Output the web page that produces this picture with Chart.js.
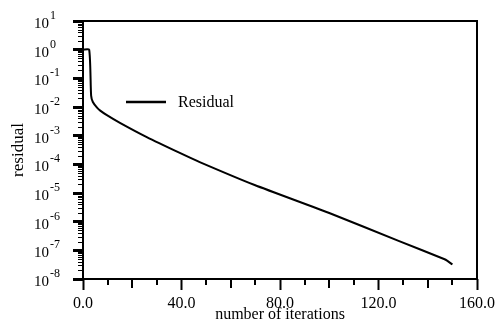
<!DOCTYPE html>
<html>
<head>
<meta charset="utf-8">
<script src="https://cdn.jsdelivr.net/npm/chart.js@4.4.1/dist/chart.umd.min.js"></script>
<style>
  html, body { margin: 0; padding: 0; background: #fff; }
  #wrap { width: 499px; height: 324px; }
</style>
</head>
<body>
<div id="wrap"><canvas id="grafico"></canvas></div>
<script>
// datos
const iteraciones = [0, 2.5, 3.3, 4.0, 5.7, 7.0, 9.7, 15.0, 25.9, 39.3, 47.4, 69.7, 100.0, 128.4, 146.6, 148.0, 150.0];
const residuo = [1, 1, 2.5e-2, 1.5e-2, 9.5e-3, 7.5e-3, 5.2e-3, 2.8e-3, 8.9e-4, 2.5e-4, 1.2e-4, 1.9e-5, 2.0e-6, 2.1e-7, 5.0e-8, 4.3e-8, 3.2e-8];
const decadas = [1e-8, 1e-7, 1e-6, 1e-5, 1e-4, 1e-3, 1e-2, 1e-1, 1e0, 1e1];
const ticksX = [0, 40, 80, 120, 160];

const serif = 'Liberation Serif, Times New Roman, serif';

// marco, etiquetas 10^n, marcas menores y leyenda
const extras = {
    id: 'extras',
    afterDraw(chart) {
        const { ctx, chartArea: a, scales: { x, y } } = chart;
        ctx.save();
        ctx.strokeStyle = '#000';
        ctx.fillStyle = '#000';
        ctx.lineWidth = 2;
        ctx.strokeRect(a.left, a.top, a.right - a.left, a.bottom - a.top);

        // etiquetas del eje y con exponente
        decadas.forEach(v => {
            const py = y.getPixelForValue(v);
            const exp = String(Math.round(Math.log10(v)));
            ctx.font = '15px ' + serif;
            ctx.textAlign = 'right';
            ctx.textBaseline = 'middle';
            ctx.fillText('10', 49, py + 3);
            ctx.font = '12px ' + serif;
            ctx.textAlign = 'left';
            ctx.fillText(exp, 50, py - 5);
        });

        ctx.lineWidth = 1;
        for (let e = -8; e < 1; e++) {
            for (let m = 2; m <= 9; m++) {
                const py = Math.round(y.getPixelForValue(m * Math.pow(10, e))) + 0.5;
                ctx.beginPath();
                ctx.moveTo(a.left - 5, py);
                ctx.lineTo(a.left + 1, py);
                ctx.stroke();
            }
        }
        ctx.lineWidth = 2;
        for (let v = 10; v < 160; v += 10) {
            if (v % 40 === 0) continue;
            const px = Math.round(x.getPixelForValue(v));
            const largo = v % 20 === 0 ? 9 : 6;
            ctx.beginPath();
            ctx.moveTo(px, a.bottom);
            ctx.lineTo(px, a.bottom + largo);
            ctx.stroke();
        }

        // leyenda dentro del grafico
        const ly = 102;
        ctx.lineWidth = 2.5;
        ctx.beginPath();
        ctx.moveTo(126, ly);
        ctx.lineTo(166, ly);
        ctx.stroke();
        ctx.font = '16px ' + serif;
        ctx.textAlign = 'left';
        ctx.textBaseline = 'middle';
        ctx.fillText(chart.data.datasets[0].label, 178, ly + 1);
        ctx.restore();
    }
};

new Chart(document.getElementById('grafico'), {
    type: 'line',
    data: {
        datasets: [{
            label: 'Residual',
            data: iteraciones.map((it, i) => ({ x: it, y: residuo[i] })),
            borderColor: '#000',
            borderWidth: 2,
            pointRadius: 0,
            tension: 0.2,
            fill: false
        }]
    },
    options: {
        responsive: true,
        maintainAspectRatio: false,
        animation: false,
        layout: { padding: { top: 21, right: 21, left: 0, bottom: 0 } },
        plugins: {
            legend: { display: false },
            tooltip: { enabled: false }
        },
        scales: {
            x: {
                type: 'linear',
                min: 0,
                max: 160,
                afterBuildTicks: s => { s.ticks = ticksX.map(v => ({ value: v })); },
                afterFit: s => { s.height = 45; },
                border: { display: false },
                grid: { drawOnChartArea: false, tickLength: 11, tickWidth: 2, tickColor: '#000' },
                ticks: {
                    color: '#000',
                    padding: 4,
                    maxRotation: 0,
                    font: { family: serif, size: 16 },
                    callback: v => v.toFixed(1)
                },
                title: {
                    display: true,
                    text: 'number of iterations',
                    color: '#000',
                    padding: { top: 0, bottom: 0 },
                    font: { family: serif, size: 16 }
                }
            },
            y: {
                type: 'logarithmic',
                min: 1e-8,
                max: 10,
                afterBuildTicks: s => { s.ticks = decadas.map(v => ({ value: v })); },
                afterFit: s => { s.width = 83; },
                border: { display: false },
                grid: { drawOnChartArea: false, tickLength: 10, tickWidth: 3, tickColor: '#000' },
                ticks: { display: false },
                title: {
                    display: true,
                    text: 'residual',
                    color: '#000',
                    padding: { top: 8, bottom: 0 },
                    font: { family: serif, size: 17 }
                }
            }
        }
    },
    plugins: [extras]
});
</script>
</body>
</html>
